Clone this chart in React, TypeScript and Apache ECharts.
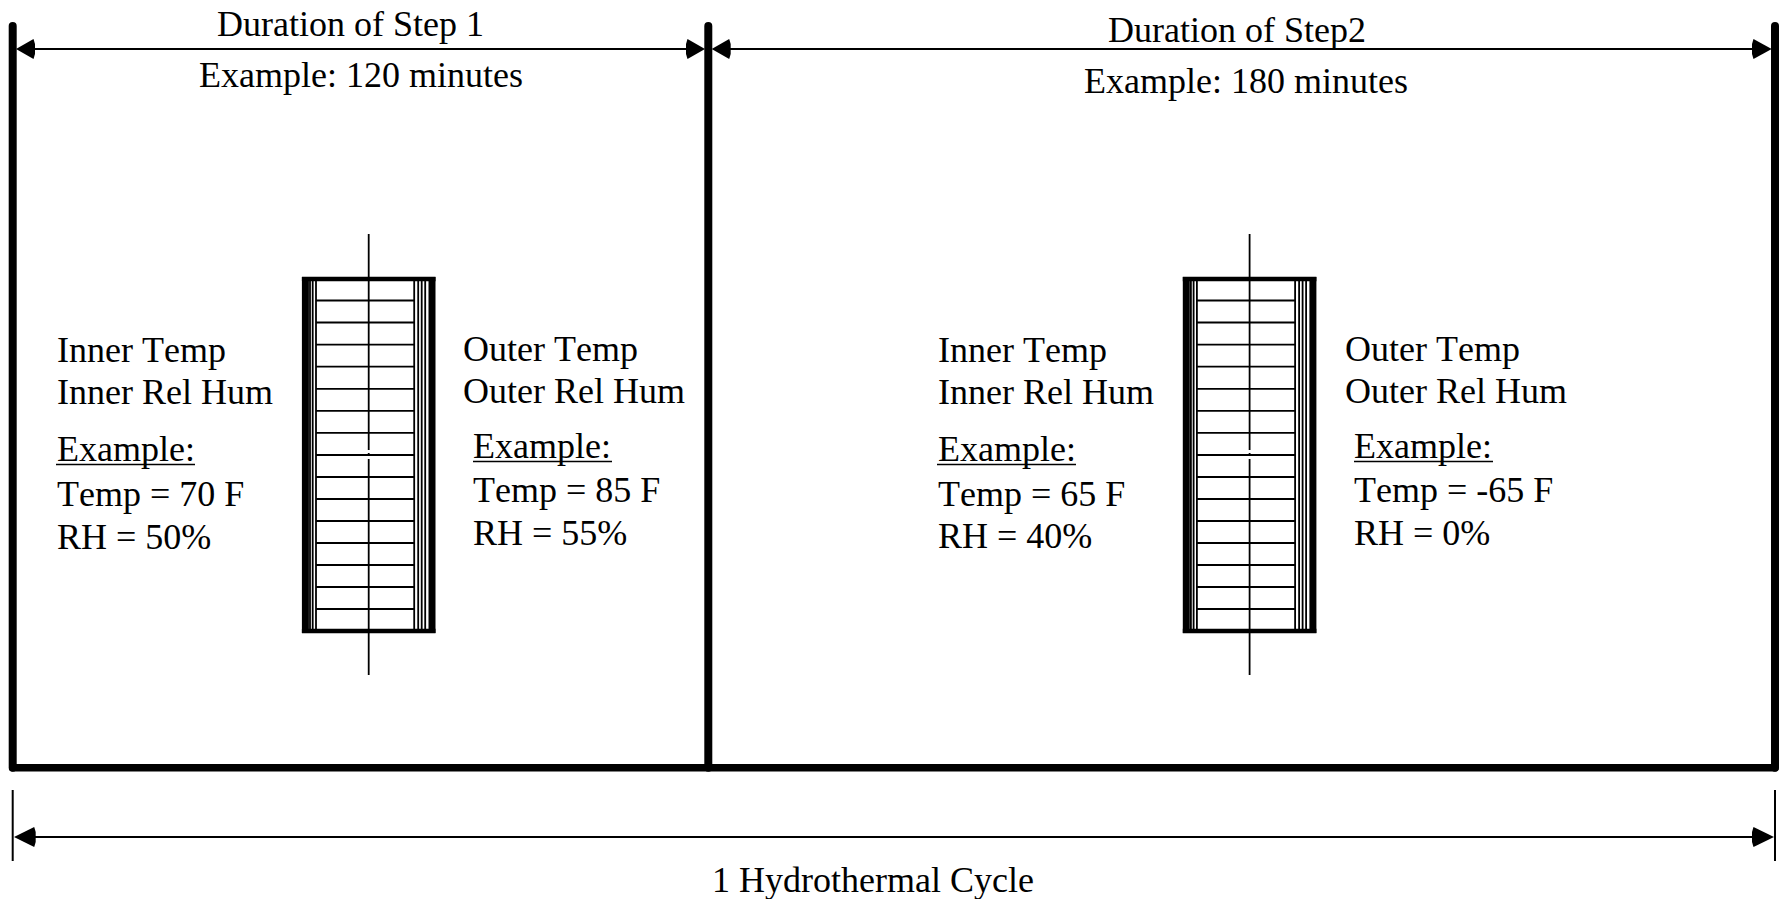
import React, { useEffect, useRef } from "react";
import * as echarts from "echarts";

const WIDTH = 1780;
const HEIGHT = 899;
const FONT = '"Liberation Serif", "Times New Roman", serif';
const FONT_SIZE = 36;

// Step boundaries of the cycle (x) and frame extents (y), in picture units
const boundaries = [12.7, 708.3, 1775];
const frameTop = 26;
const frameBottom = 767.7;
const durationY = 49;
const cycleY = 837;
const cycleTick = [790, 861];

// Laminate cross-section, relative to its centre line
const specimenCentres = [368.7, 1249.6];
const leftPlies = [-58.7, -56, -52.7];
const rightPlies = [45.5, 49.5, 53, 56.5];
const ribRows = [300.5, 322.5, 344.6, 366.7, 388.8, 410.8, 432.9, 455, 477, 499, 521, 543, 565, 587, 609];

const texts: [string, number, number][] = [
  ["Duration of Step 1", 217, 24],
  ["Example: 120 minutes", 199, 75],
  ["Duration of Step2", 1108, 30],
  ["Example: 180 minutes", 1084, 81],
  ["1 Hydrothermal Cycle", 712, 880],
  ["Inner Temp", 57, 350],
  ["Inner Rel Hum", 57, 392],
  ["Example:", 57, 449],
  ["Temp = 70 F", 57, 494],
  ["RH = 50%", 57, 537],
  ["Outer Temp", 463, 349],
  ["Outer Rel Hum", 463, 391],
  ["Example:", 473, 446],
  ["Temp = 85 F", 473, 490],
  ["RH = 55%", 473, 533],
  ["Inner Temp", 938, 350],
  ["Inner Rel Hum", 938, 392],
  ["Example:", 938, 449],
  ["Temp = 65 F", 938, 494],
  ["RH = 40%", 938, 536],
  ["Outer Temp", 1345, 349],
  ["Outer Rel Hum", 1345, 391],
  ["Example:", 1354, 446],
  ["Temp = -65 F", 1354, 490],
  ["RH = 0%", 1354, 533],
];

// Example: underlines [x1, x2, y]
const underlines = [
  [56, 195, 464.5],
  [473, 612, 461.5],
  [937, 1076, 464.5],
  [1354, 1493, 461.5],
];

type Seg = [number, number, number, number, number, number?];

function buildSegments(): Seg[] {
  const segs: Seg[] = [];
  boundaries.forEach((x) => segs.push([x, frameTop, x, frameBottom, 8, 1]));
  segs.push([boundaries[0], frameBottom, boundaries[2], frameBottom, 7.5, 1]);
  segs.push([30, durationY, 690, durationY, 2]);
  segs.push([726, durationY, 1756, durationY, 2]);
  segs.push([30, cycleY, 1756, cycleY, 2]);
  segs.push([boundaries[0], cycleTick[0], boundaries[0], cycleTick[1], 2]);
  segs.push([boundaries[2], cycleTick[0], boundaries[2], cycleTick[1], 2]);
  underlines.forEach(([a, b, y]) => segs.push([a, y, b, y, 1.6]));
  specimenCentres.forEach((c) => {
    segs.push([c, 234, c, 450, 1.8]);
    segs.push([c, 453, c, 456, 1.8]);
    segs.push([c, 459, c, 675, 1.8]);
    // outer thick skins
    segs.push([c - 63.3, 277, c - 63.3, 633, 7]);
    segs.push([c + 63.3, 277, c + 63.3, 633, 7]);
    segs.push([c - 66.8, 279, c + 66.8, 279, 4.6]);
    segs.push([c - 66.8, 631, c + 66.8, 631, 4.6]);
    leftPlies.forEach((d) => segs.push([c + d, 280, c + d, 630, 1.8]));
    rightPlies.forEach((d) => segs.push([c + d, 280, c + d, 630, 1.8]));
    ribRows.forEach((y) => segs.push([c - 52.7, y, c + 45.5, y, 1.8]));
  });
  return segs;
}

// Arrow heads: [tip x, base x, y]
const arrows: [number, number, number][] = [
  [16, 35, durationY],
  [705, 686, durationY],
  [711.7, 730.7, durationY],
  [1771.7, 1752, durationY],
  [14, 35.7, cycleY],
  [1774, 1752, cycleY],
];

function App() {
  const ref = useRef<HTMLDivElement>(null);

  useEffect(() => {
    document.body.style.margin = "0";
    const chart = echarts.init(ref.current!, null, { renderer: "svg" });
    const segments = buildSegments();
    chart.setOption({
      animation: false,
      backgroundColor: "#ffffff",
      grid: { left: 0, right: 0, top: 0, bottom: 0 },
      xAxis: { type: "value", min: 0, max: WIDTH, show: false },
      yAxis: { type: "value", min: 0, max: HEIGHT, inverse: true, show: false },
      series: [
        {
          type: "custom",
          coordinateSystem: "cartesian2d",
          silent: true,
          clip: false,
          data: segments.map((s) => [s[0], s[1], s[2], s[3]]),
          renderItem: (params: any, api: any) => {
            const s = segments[params.dataIndex];
            const a = api.coord([s[0], s[1]]);
            const b = api.coord([s[2], s[3]]);
            return {
              type: "line",
              shape: { x1: a[0], y1: a[1], x2: b[0], y2: b[1] },
              style: { stroke: "#000", lineWidth: s[4], lineCap: s[5] ? "round" : "butt", fill: "none" },
            };
          },
        },
        {
          type: "custom",
          coordinateSystem: "cartesian2d",
          silent: true,
          clip: false,
          data: arrows.map((s) => [s[0], s[2]]),
          renderItem: (params: any, api: any) => {
            const [tip, base, y] = arrows[params.dataIndex];
            const sign = base > tip ? 1 : -1;
            const pts = [
              [tip, y],
              [base - sign * 1.5, y - 10],
              [base, y - 5],
              [base, y + 5],
              [base - sign * 1.5, y + 10],
            ].map((p) => api.coord(p));
            return { type: "polygon", shape: { points: pts }, style: { fill: "#000" } };
          },
        },
        {
          type: "custom",
          coordinateSystem: "cartesian2d",
          silent: true,
          clip: false,
          data: texts.map((t) => [t[1], t[2]]),
          renderItem: (params: any, api: any) => {
            const t = texts[params.dataIndex];
            const p = api.coord([t[1], t[2]]);
            return {
              type: "text",
              x: p[0],
              y: p[1],
              style: {
                text: t[0],
                fontFamily: FONT,
                fontSize: FONT_SIZE,
                fill: "#000",
                align: "left",
                verticalAlign: "middle",
              },
            };
          },
        },
      ],
    });
    return () => chart.dispose();
  }, []);

  return (
    <div
      ref={ref}
      style={{ position: "fixed", left: 0, top: 0, width: WIDTH, height: HEIGHT, background: "#fff", fontKerning: "none" }}
    />
  );
}

export default App;
